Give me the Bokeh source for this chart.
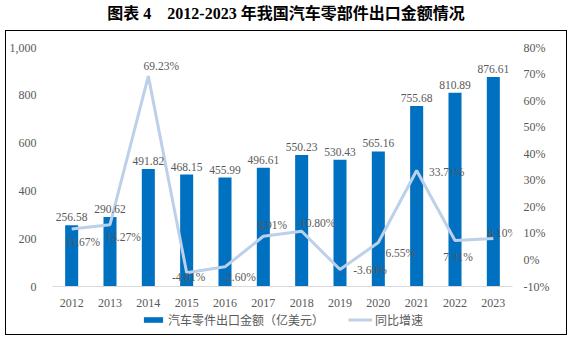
from bokeh.plotting import figure
from bokeh.models import (ColumnDataSource, Range1d, LinearAxis, FixedTicker,
                          NumeralTickFormatter, PrintfTickFormatter, Legend, LegendItem, Div)
from bokeh.layouts import column
from bokeh.core.properties import value
from bokeh.embed import file_html
from bokeh.resources import INLINE

years = [2012, 2013, 2014, 2015, 2016, 2017, 2018, 2019, 2020, 2021, 2022, 2023]
export_value = [256.58, 290.62, 491.82, 468.15, 455.99, 496.61, 550.23, 530.43, 565.16, 755.68, 810.89, 876.61]
growth = [11.67, 13.27, 69.23, -4.81, -2.60, 8.91, 10.80, -3.60, 6.55, 33.71, 7.31, 8.10]
value_labels = ["256.58", "290.62", "491.82", "468.15", "455.99", "496.61", "550.23", "530.43", "565.16", "755.68", "810.89", "876.61"]
growth_labels = ["11.67%", "13.27%", "69.23%", "-4.81%", "-2.60%", "8.91%", "10.80%", "-3.60%", "6.55%", "33.71%", "7.31%", "8.10%"]
left_ticks = [0, 200, 400, 600, 800, 1000]
right_ticks = [-10, 0, 10, 20, 30, 40, 50, 60, 70, 80]
bar_name = "汽车零件出口金额（亿美元）"
line_name = "同比增速"
title_text = "图表 4&nbsp;&nbsp;&nbsp;&nbsp;2012-2023 年我国汽车零部件出口金额情况"

# label offsets (style only, screen px)
pct_dx = [11, 13, 13, 2, 14, 9, 16, 30, 22, 30, 3, 9]
pct_dy = [13, 12, -10, 4, 10, -11, -8, 0, 10, 2, 16, -5]

BAR = "#0070C0"
LINE = "#BDD0EA"
GREY = "#595959"
SERIF = "Liberation Serif"
CJK = "Noto Sans CJK SC"

src = ColumnDataSource(dict(x=years, v=export_value, g=growth, vl=value_labels,
                            gl=growth_labels, dx=pct_dx, dy=pct_dy))

p = figure(width=560, height=279, output_backend="svg", toolbar_location=None,
           x_range=Range1d(2011.5, 2023.5), y_range=Range1d(0, 1000),
           min_border_left=46, min_border_right=54, min_border_top=16, min_border_bottom=24)
p.extra_y_ranges = {"pct": Range1d(-10, 80)}
p.outline_line_color = None
p.xgrid.visible = False
p.ygrid.visible = False
p.background_fill_color = "white"
p.border_fill_color = "white"

bars = p.vbar(x="x", top="v", width=0.34, source=src, fill_color=BAR, line_color=None)
ln = p.line(x="x", y="g", source=src, y_range_name="pct", line_color=LINE, line_width=3)

p.text(x="x", y="v", text="vl", source=src, text_align="center", text_baseline="bottom",
       y_offset=-4, text_font=value(SERIF), text_font_size="11.5px", text_color=GREY)
p.text(x="x", y="g", text="gl", source=src, y_range_name="pct", text_align="center",
       text_baseline="middle", x_offset="dx", y_offset="dy",
       text_font=value(SERIF), text_font_size="11.5px", text_color=GREY)

# axes
xa = p.xaxis[0]
xa.ticker = FixedTicker(ticks=years)
xa.axis_line_color = "#D9D9D9"
xa.major_tick_line_color = None
xa.minor_tick_line_color = None
xa.major_label_standoff = 6
xa.major_label_text_font = SERIF
xa.major_label_text_font_size = "12px"
xa.major_label_text_color = GREY

ya = p.yaxis[0]
ya.ticker = FixedTicker(ticks=left_ticks)
ya.formatter = NumeralTickFormatter(format="0,0")
ya.axis_line_color = None
ya.major_tick_line_color = None
ya.minor_tick_line_color = None
ya.major_label_standoff = 10
ya.major_label_text_font = SERIF
ya.major_label_text_font_size = "12px"
ya.major_label_text_color = GREY

ra = LinearAxis(y_range_name="pct", ticker=FixedTicker(ticks=right_ticks),
                formatter=PrintfTickFormatter(format="%d%%"))
ra.axis_line_color = None
ra.major_tick_line_color = None
ra.minor_tick_line_color = None
ra.major_label_standoff = 5
ra.major_label_text_font = SERIF
ra.major_label_text_font_size = "12px"
ra.major_label_text_color = GREY
p.add_layout(ra, "right")

# legend strip (separate small figure, same colours; its marks lie outside its view)
lf = figure(width=560, height=24, output_backend="svg", toolbar_location=None,
            x_range=Range1d(0, 1), y_range=Range1d(0, 1), min_border=0,
            x_axis_type=None, y_axis_type=None)
lf.outline_line_color = None
lf.background_fill_color = "white"
lf.border_fill_color = "white"
lbar = lf.vbar(x=[-5], top=[-5], width=0.1, fill_color=BAR, line_color=None)
lline = lf.line(x=[-6, -5], y=[-5, -5], line_color=LINE, line_width=3)
legend = Legend(items=[LegendItem(label=bar_name, renderers=[lbar]),
                       LegendItem(label=line_name, renderers=[lline])],
                orientation="horizontal", location=(89, 6),
                padding=0, margin=0, spacing=24, label_standoff=3,
                glyph_width=24, glyph_height=7, label_height=12,
                label_text_font=CJK, label_text_font_size="12px", label_text_color=GREY,
                border_line_color=None, background_fill_alpha=0)
lf.add_layout(legend, "center")

box = column(p, lf, spacing=0, width=562, height=305)
box.styles = {"border": "1px solid #000000", "box-sizing": "border-box"}
box.margin = (0, 0, 0, 5)

div = Div(text=f'<div style="width:572px;text-align:center;font-family:\'{SERIF}\',\'{CJK}\';'
               f'font-weight:bold;font-size:16px;color:#000;line-height:28px;">{title_text}</div>',
          width=572, height=30, margin=(0, 0, 0, 0))

layout = column(div, box, spacing=0)
layout.margin = (0, 0, 0, 0)

open("out.html", "w").write(file_html(layout, INLINE))
